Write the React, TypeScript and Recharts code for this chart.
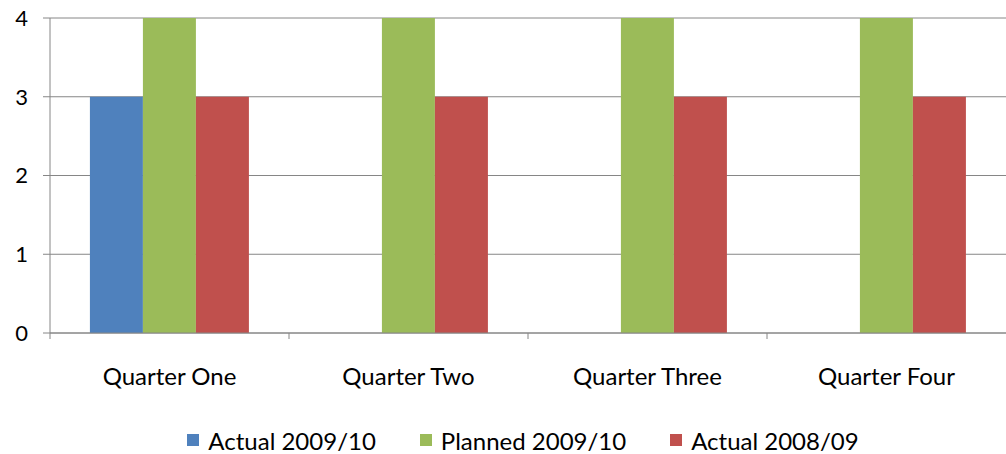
import { BarChart, Bar, XAxis, YAxis, CartesianGrid, Legend } from 'recharts'

const quarters = ['Quarter One', 'Quarter Two', 'Quarter Three', 'Quarter Four']
const actual0910 = [3, null, null, null]
const planned0910 = [4, 4, 4, 4]
const actual0809 = [3, 3, 3, 3]
const yTicks = [0, 1, 2, 3, 4]

const series = [
  { key: 'actual0910', name: 'Actual 2009/10', color: '#4F81BD' },
  { key: 'planned0910', name: 'Planned 2009/10', color: '#9BBB59' },
  { key: 'actual0809', name: 'Actual 2008/09', color: '#C0504D' },
]

const data = quarters.map((q, i) => ({
  name: q,
  actual0910: actual0910[i],
  planned0910: planned0910[i],
  actual0809: actual0809[i],
}))

const FONT = 'Lato, "Open Sans", sans-serif'
const AXIS = '#868686'

function QuarterTick(props: any) {
  const { x, y, payload, width, visibleTicksCount } = props
  const half = payload?.offset || width / visibleTicksCount / 2
  return (
    <g>
      <line x1={x - half} x2={x - half} y1={y - 6} y2={y} stroke={AXIS} strokeWidth={1} />
      <text x={x} y={y + 38} dy="0.35em" textAnchor="middle" fill="#000" fontSize={24} fontFamily={FONT}>
        {payload.value}
      </text>
    </g>
  )
}

function LegendBox() {
  return (
    <div style={{ display: 'flex', justifyContent: 'center', alignItems: 'center', height: 28, paddingLeft: 40, fontFamily: FONT, fontSize: 24, color: '#000' }}>
      {series.map(s => (
        <div key={s.key} style={{ display: 'flex', alignItems: 'center', margin: '0 22px' }}>
          <span style={{ width: 12, height: 12, background: s.color, marginRight: 9, display: 'inline-block' }} />
          <span>{s.name}</span>
        </div>
      ))}
    </div>
  )
}

export default function App() {
  return (
    <div style={{ position: 'absolute', left: 0, top: 0, background: '#fff' }}>
      <BarChart width={1006} height={454} data={data} margin={{ top: 18, right: 0, bottom: 0, left: 0 }}
        barGap={0} barCategoryGap="16.7%">
        <CartesianGrid vertical={false} stroke={AXIS} strokeWidth={1} />
        <XAxis dataKey="name" height={93} stroke={AXIS} tickLine={false} tickSize={6} tickMargin={0}
          tick={<QuarterTick />} interval={0} />
        <YAxis domain={[0, 4]} ticks={yTicks} width={50} stroke={AXIS} tickSize={7} tickMargin={15}
          tick={{ fill: '#000', fontSize: 22, fontFamily: FONT }} />
        <Legend verticalAlign="bottom" content={<LegendBox />} />
        {series.map(s => (
          <Bar key={s.key} dataKey={s.key} name={s.name} fill={s.color} isAnimationActive={false} />
        ))}
      </BarChart>
    </div>
  )
}
